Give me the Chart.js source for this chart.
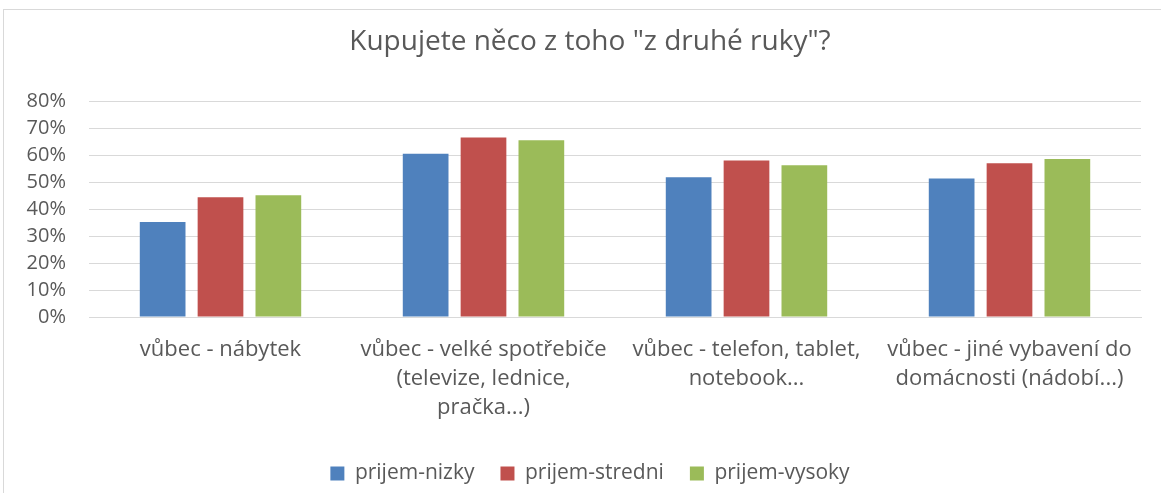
<!DOCTYPE html>
<html>
<head>
<meta charset="utf-8">
<script src="https://cdn.jsdelivr.net/npm/chart.js"></script>
<style>
  html, body { margin: 0; padding: 0; background: #fff; overflow: hidden; }
  #frame { position: absolute; left: 3px; top: 9px; width: 1200px; height: 520px; border: 1px solid #d9d9d9; box-sizing: border-box; }
  #wrap { position: absolute; left: 0; top: 0; width: 1180px; height: 493px; }
</style>
</head>
<body>
<div id="frame"></div>
<div id="wrap"><canvas id="chart" width="1180" height="493"></canvas></div>
<script>
  // data (percent)
  const categories = [
    'vůbec - nábytek',
    ['vůbec - velké spotřebiče', '(televize, lednice,', 'pračka...)'],
    ['vůbec - telefon, tablet,', 'notebook...'],
    ['vůbec - jiné vybavení do', 'domácnosti (nádobí...)']
  ];
  const seriesNames = ['prijem-nizky', 'prijem-stredni', 'prijem-vysoky'];
  const nizky = [35.3, 60.6, 51.9, 51.4];
  const stredni = [44.5, 66.7, 58.1, 57.1];
  const vysoky = [45.2, 65.6, 56.4, 58.7];
  const colors = ['#4f81bd', '#c0504d', '#9bbb59'];
  const yTicks = [0, 10, 20, 30, 40, 50, 60, 70, 80];

  const fontFamily = '"Open Sans", sans-serif';
  const textColor = '#595959';

  new Chart(document.getElementById('chart').getContext('2d'), {
    type: 'bar',
    data: {
      labels: categories,
      datasets: [nizky, stredni, vysoky].map((vals, i) => ({
        label: seriesNames[i],
        data: vals,
        backgroundColor: colors[i],
        borderWidth: 0,
        barPercentage: 0.79,
        categoryPercentage: 0.66
      }))
    },
    options: {
      responsive: false,
      animation: false,
      layout: { padding: { left: 0, right: 0, top: 0, bottom: -1 } },
      plugins: {
        title: {
          display: true,
          text: 'Kupujete něco z toho "z druhé ruky"?',
          color: textColor,
          font: { family: fontFamily, size: 28, weight: 'normal' },
          padding: { top: 25, bottom: 43 }
        },
        legend: {
          display: true,
          position: 'bottom',
          labels: {
            color: textColor,
            font: { family: fontFamily, size: 21 },
            boxWidth: 14,
            boxHeight: 14,
            padding: 26
          }
        },
        tooltip: { enabled: false }
      },
      scales: {
        x: {
          grid: { display: false },
          border: { display: true, color: '#d9d9d9' },
          ticks: {
            color: textColor,
            font: { family: fontFamily, size: 22, lineHeight: 1.32 },
            padding: 10,
            maxRotation: 0,
            autoSkip: false
          },
          afterFit: (s) => { s.height = 120; }
        },
        y: {
          min: 0,
          max: 80,
          afterBuildTicks: (s) => { s.ticks = yTicks.map(v => ({ value: v })); },
          grid: { color: '#d9d9d9', drawTicks: false },
          border: { display: false },
          ticks: {
            color: textColor,
            font: { family: fontFamily, size: 20 },
            padding: 23,
            autoSkip: false,
            callback: (v) => v + '%'
          },
          afterFit: (s) => { s.width = 89; }
        },
        // empty right-hand axis, only to leave the blank margin on the right
        yRight: {
          position: 'right',
          min: 0,
          max: 80,
          grid: { display: false },
          border: { display: false },
          ticks: { display: false },
          afterFit: (s) => { s.width = 39; }
        }
      }
    }
  });
</script>
</body>
</html>
